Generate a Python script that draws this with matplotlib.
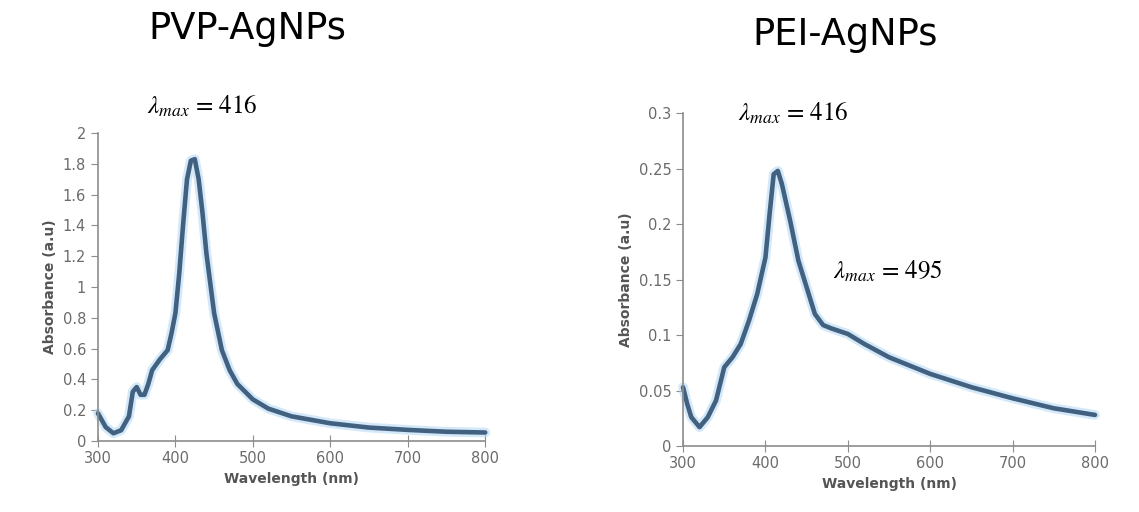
import matplotlib
matplotlib.use("Agg")
import matplotlib.pyplot as plt

# PVP-AgNPs spectrum
pvp_wl = [300, 310, 320, 330, 340, 345, 350, 355, 360, 365, 370, 380, 390, 395, 400,
          405, 410, 415, 420, 425, 430, 435, 440, 450, 460, 470, 480, 500, 520, 550,
          600, 650, 700, 750, 800]
pvp_abs = [0.18, 0.09, 0.05, 0.07, 0.16, 0.32, 0.35, 0.30, 0.30, 0.37, 0.46, 0.53, 0.59, 0.70, 0.83,
           1.09, 1.41, 1.70, 1.82, 1.83, 1.70, 1.48, 1.22, 0.83, 0.59, 0.46, 0.37, 0.27, 0.21, 0.16,
           0.115, 0.087, 0.072, 0.06, 0.055]

# PEI-AgNPs spectrum
pei_wl = [300, 305, 310, 320, 330, 340, 350, 360, 370, 380, 390, 400, 405, 410, 415,
          420, 430, 440, 450, 460, 470, 480, 500, 520, 550, 600, 650, 700, 750, 800]
pei_abs = [0.053, 0.038, 0.026, 0.017, 0.026, 0.041, 0.071, 0.080, 0.092, 0.113, 0.137, 0.170, 0.209, 0.245, 0.248,
           0.236, 0.203, 0.167, 0.143, 0.119, 0.109, 0.106, 0.101, 0.092, 0.080, 0.065, 0.053, 0.043, 0.034, 0.028]

pvp_yticks = [0, 0.2, 0.4, 0.6, 0.8, 1, 1.2, 1.4, 1.6, 1.8, 2]
pei_yticks = [0, 0.05, 0.1, 0.15, 0.2, 0.25, 0.3]
x_ticks = [300, 400, 500, 600, 700, 800]

plt.rcParams["mathtext.fontset"] = "stix"

fig = plt.figure(figsize=(11.39, 5.12), dpi=100)
ax1 = fig.add_axes([0.086, 0.1387, 0.340, 0.6016])
ax2 = fig.add_axes([0.5997, 0.1289, 0.3617, 0.650])

gray = "#6b6b6b"


def style(ax, yticks, ylim):
    ax.set_xlim(300, 800)
    ax.set_ylim(*ylim)
    ax.set_xticks(x_ticks)
    ax.set_yticks(yticks)
    ax.set_yticklabels([f"{t:g}" for t in yticks])
    for s in ["top", "right"]:
        ax.spines[s].set_visible(False)
    for s in ["left", "bottom"]:
        ax.spines[s].set_color("#8c8c8c")
        ax.spines[s].set_linewidth(1.2)
    ax.tick_params(axis="y", direction="out", length=5, color="#8c8c8c", labelsize=10.5, labelcolor=gray)
    ax.tick_params(axis="x", direction="inout", length=8, color="#8c8c8c", labelsize=10.5, labelcolor=gray)
    ax.set_xlabel("Wavelength (nm)", fontsize=10, fontweight="bold", color="#555555")
    ax.set_ylabel("Absorbance (a.u)", fontsize=10, fontweight="bold", color="#555555")


for ax, x, y in [(ax1, pvp_wl, pvp_abs), (ax2, pei_wl, pei_abs)]:
    ax.plot(x, y, color="#a9d5f5", lw=7, alpha=0.5, solid_capstyle="round", clip_on=False)
    ax.plot(x, y, color="#42607f", lw=3.3, solid_capstyle="round", clip_on=False)

style(ax1, pvp_yticks, (0, 2))
style(ax2, pei_yticks, (0, 0.3))

fig.text(0.217, 0.945, "PVP-AgNPs", fontsize=26.5, ha="center", va="center")
fig.text(0.742, 0.932, "PEI-AgNPs", fontsize=26.5, ha="center", va="center")

fig.text(0.129, 0.79, r"$\lambda_{max}$ = 416", fontsize=18, family="STIXGeneral", va="center")
fig.text(0.648, 0.778, r"$\lambda_{max}$ = 416", fontsize=18, family="STIXGeneral", va="center")
fig.text(0.731, 0.469, r"$\lambda_{max}$ = 495", fontsize=18, family="STIXGeneral", va="center")

fig.savefig("out.png", dpi=100)
